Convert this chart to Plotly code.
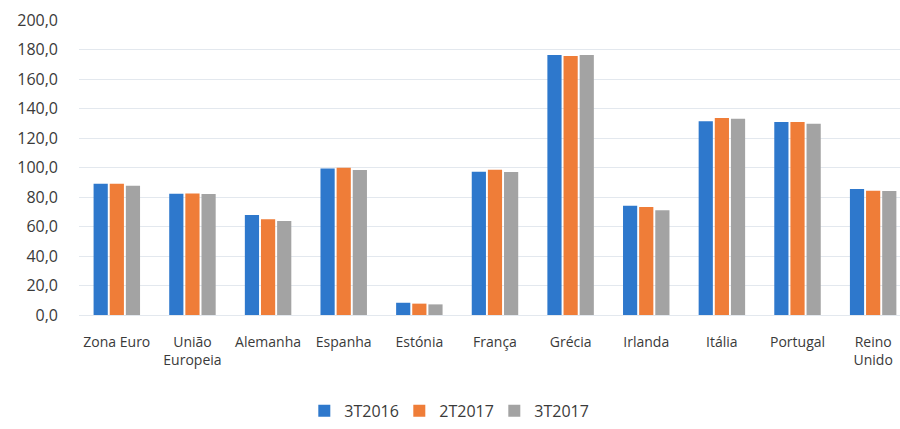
import plotly.graph_objects as go

# Rácio da dívida pública (% do PIB) por país e trimestre
paises = ["Zona Euro", "União<br>Europeia", "Alemanha", "Espanha", "Estónia", "França",
          "Grécia", "Irlanda", "Itália", "Portugal", "Reino<br>Unido"]
t3_2016 = [89.0, 82.2, 67.8, 99.4, 8.3, 97.2, 176.3, 74.1, 131.3, 130.8, 85.4]
t2_2017 = [89.0, 82.3, 64.9, 99.9, 7.7, 98.5, 175.6, 73.2, 133.6, 130.8, 84.3]
t3_2017 = [87.7, 82.0, 63.7, 98.3, 7.2, 97.0, 176.3, 71.0, 133.1, 129.7, 84.1]
series = [("3T2016", t3_2016, "#2E78CC"),
          ("2T2017", t2_2017, "#EF7D38"),
          ("3T2017", t3_2017, "#A3A3A3")]

fig = go.Figure()
for nome, valores, cor in series:
    fig.add_trace(go.Bar(name=nome, x=paises, y=valores, marker_color=cor,
                         marker_line_width=0))

fig.update_layout(
    width=900, height=429,
    margin=dict(l=79, r=0, t=20, b=114),
    paper_bgcolor="white", plot_bgcolor="white",
    separators=",.",
    barmode="group", bargap=0.36, bargroupgap=0.12,
    font=dict(family="Open Sans", color="#3a3a3a"),
    showlegend=True,
    legend=dict(orientation="h", x=0.448, xanchor="center", y=-0.325, yanchor="middle",
                font=dict(size=16, color="#3a3a3a"), traceorder="normal",
                itemwidth=30, entrywidth=50),
)
fig.update_yaxes(range=[0, 200], dtick=20, tickformat=".1f",
                 showgrid=True, gridcolor="#E3E8EE", gridwidth=1,
                 zeroline=False, showline=False, ticks="",
                 ticklabelstandoff=20,
                 tickfont=dict(size=16, color="#3a3a3a"))
fig.update_xaxes(range=[-0.5, 10.355], showline=True, linecolor="#E3E8EE", ticks="",
                 ticklabelstandoff=14,
                 tickfont=dict(size=14, color="#3a3a3a"), tickangle=0)

fig.write_html("out.html")
